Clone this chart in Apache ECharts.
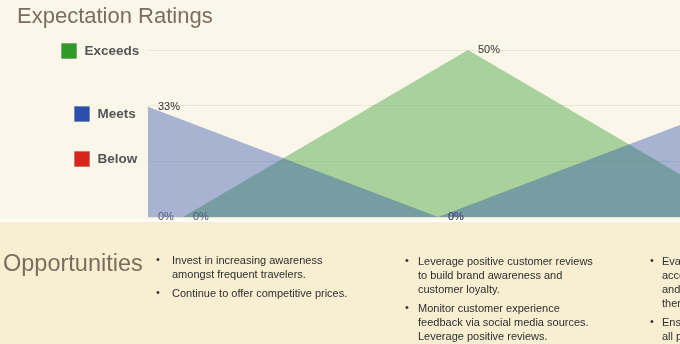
<!DOCTYPE html>
<html>
<head>
<meta charset="utf-8">
<script src="https://cdn.jsdelivr.net/npm/echarts@6/dist/echarts.min.js"></script>
<style>
  html, body { margin: 0; padding: 0; background: #faf6ea; }
  #chart { width: 680px; height: 344px; }
</style>
</head>
<body>
<div id="chart"></div>
<script>
// Survey periods and the share of responses (%) in each rating band
const categories = ['Survey 1', 'Survey 2', 'Survey 3'];
const exceeds = [0, 50, 0];
const meets = [33, 0, 33];
const below = [0, 0, 0];

// Rating ticks on the value axis (0, 1/6, 1/3, 1/2)
const ratingMax = 50;
const ratingStep = 50 / 3;

// Opportunity notes shown under the chart, one list per column
const column1 = [
  ['Invest in increasing awareness', 'amongst frequent travelers.'],
  ['Continue to offer competitive prices.']
];
const column2 = [
  ['Leverage positive customer reviews', 'to build brand awareness and', 'customer loyalty.'],
  ['Monitor customer experience', 'feedback via social media sources.', 'Leverage positive reviews.']
];
const column3 = [
  ['Evaluate amenities offered at', 'accommodations such as Wi-Fi', 'and breakfast, and promote', 'them in campaigns.'],
  ['Ensure consistent service at', 'all properties.']
];

const COLORS = { exceeds: '#2f9a27', meets: '#2b4fad', below: '#d8241c' };

// Each period sits at its index along the x axis; the visible window
// shows the first period through part of the way to the last one.
function points(values) {
  return values.map((v, i) => ({
    value: [i, v],
    name: categories[i],
    label: { color: v === 0 ? '#4b5b7c' : '#333333' }
  }));
}

function bulletGraphics(items, bulletX, textX, top) {
  const out = [];
  let y = top;
  items.forEach(lines => {
    out.push({
      type: 'text', left: bulletX, top: y,
      style: { text: '•', fill: '#333', font: '11px "Liberation Sans", Arial, sans-serif' }
    });
    out.push({
      type: 'text', left: textX, top: y,
      style: {
        text: lines.join('\n'), fill: '#2e2e2e', lineHeight: 14,
        font: '11px "Liberation Sans", Arial, sans-serif'
      }
    });
    y += lines.length * 14 + 5;
  });
  return out;
}

const legendText = {
  color: '#555555', fontWeight: 'bold', fontSize: 13.5,
  fontFamily: '"Liberation Sans", Arial, sans-serif', padding: [0, 0, 0, 3]
};
function legendFor(name, color, left, top) {
  return {
    data: [{ name: name, icon: 'rect', itemStyle: { color: color, borderColor: 'rgba(0,0,0,0.15)', borderWidth: 1 } }],
    left: left, top: top, itemWidth: 15, itemHeight: 15,
    selectedMode: false, textStyle: legendText, padding: 0
  };
}

function areaSeries(name, values, color, axisIndex) {
  return {
    name: name, type: 'line', data: points(values),
    xAxisIndex: axisIndex, yAxisIndex: axisIndex,
    symbol: 'circle', symbolSize: 0, showSymbol: true,
    lineStyle: { width: 0 },
    itemStyle: { color: color },
    areaStyle: { color: color, opacity: 0.4 },
    label: {
      show: true, position: 'right', distance: 10,
      formatter: p => p.value[1] + '%', fontSize: 11,
      fontFamily: '"Liberation Sans", Arial, sans-serif'
    },
    emphasis: { disabled: true },
    animation: false
  };
}

const chart = echarts.init(document.getElementById('chart'), null, { renderer: 'canvas' });

const option = {
  backgroundColor: '#faf6ea',
  animation: false,
  graphic: [
    { type: 'rect', shape: { x: 0, y: 219, width: 680, height: 3 }, style: { fill: '#fdfbf4' }, z: -10 },
    { type: 'rect', shape: { x: 0, y: 222, width: 680, height: 122 }, style: { fill: '#f8efd2' }, z: -10 },
    {
      type: 'text', left: 17, top: 6,
      style: { text: 'Expectation Ratings', fill: '#7a6d5e', font: '22px "Liberation Sans", Arial, sans-serif' }
    },
    {
      type: 'text', left: 3, top: 253,
      style: { text: 'Opportunities', fill: '#7a6d5e', font: '23.5px "Liberation Sans", Arial, sans-serif' }
    }
  ].concat(
    bulletGraphics(column1, 156, 172, 254),
    bulletGraphics(column2, 405, 418, 255),
    bulletGraphics(column3, 650, 662, 255)
  ),
  legend: [
    legendFor('Exceeds', COLORS.exceeds, 61, 43),
    legendFor('Meets', COLORS.meets, 74, 106),
    legendFor('Below', COLORS.below, 74, 151)
  ],
  grid: [
    { left: 148, top: 50, right: 0, height: 167 },
    { left: 183, top: 50, right: 0, height: 167 }
  ],
  xAxis: [
    { max: 532 / 290 },
    { max: 497 / 285 }
  ].map((ax, i) => ({
    type: 'value', gridIndex: i, min: 0, max: ax.max,
    axisLine: { show: false }, axisTick: { show: false }, axisLabel: { show: false },
    splitLine: { show: false }
  })),
  yAxis: [0, 1].map(i => ({
    type: 'value', gridIndex: i, min: 0, max: ratingMax, interval: ratingStep,
    axisLine: { show: false }, axisTick: { show: false }, axisLabel: { show: false },
    splitLine: { show: i === 0, lineStyle: { color: '#ebe6d6', width: 1 } }
  })),
  series: [
    areaSeries('Exceeds', exceeds, COLORS.exceeds, 1),
    areaSeries('Meets', meets, COLORS.meets, 0),
    areaSeries('Below', below, COLORS.below, 0)
  ]
};

chart.setOption(option);
</script>
</body>
</html>
